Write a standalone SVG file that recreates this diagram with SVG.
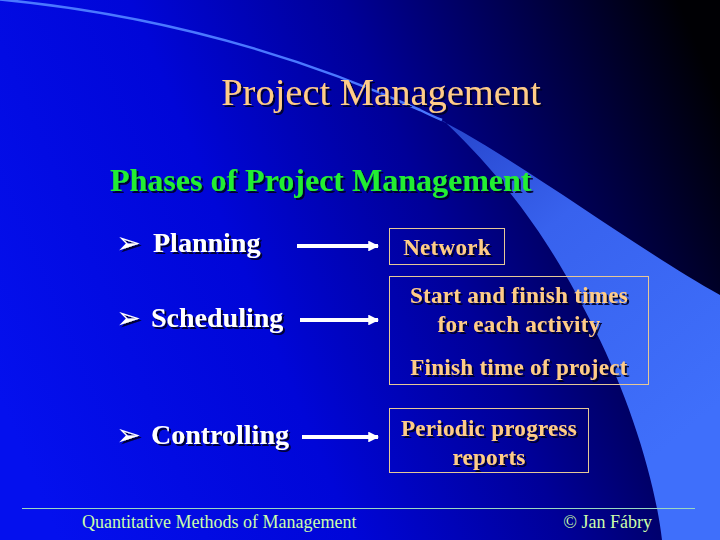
<svg xmlns="http://www.w3.org/2000/svg" width="720" height="540" viewBox="0 0 720 540">
  <defs>
    <linearGradient id="bg" gradientUnits="userSpaceOnUse" x1="0" y1="400" x2="720" y2="100">
      <stop offset="0" stop-color="#0410ee"/>
      <stop offset="0.35" stop-color="#0006d8"/>
      <stop offset="0.6" stop-color="#000098"/>
      <stop offset="0.8" stop-color="#00004e"/>
      <stop offset="1" stop-color="#000004"/>
    </linearGradient>
    <linearGradient id="sw" gradientUnits="userSpaceOnUse" x1="460" y1="130" x2="700" y2="420">
      <stop offset="0" stop-color="#2848d0"/>
      <stop offset="0.35" stop-color="#3862ee"/>
      <stop offset="1" stop-color="#3f6ffb"/>
    </linearGradient>
    <filter id="sh" x="-10%" y="-30%" width="120%" height="160%">
      <feDropShadow dx="2" dy="2" stdDeviation="0.6" flood-color="#000020" flood-opacity="0.9"/>
    </filter>
    <marker id="ah" viewBox="0 0 10 10" refX="9" refY="5" markerWidth="2.7" markerHeight="2.7" orient="auto" markerUnits="strokeWidth">
      <path d="M0,0 L10,5 L0,10 Z" fill="#ffffff"/>
    </marker>
    <style>
      .title { font-family: "Liberation Serif", "Times New Roman", serif; font-size: 38.5px; fill: #ffcc88; }
      .sub { font-family: "Liberation Serif", "Times New Roman", serif; font-weight: bold; font-size: 32px; fill: #22ee33; }
      .item { font-family: "Liberation Serif", "Times New Roman", serif; font-weight: bold; font-size: 28px; fill: #ffffff; }
      .bul { font-family: "DejaVu Sans", sans-serif; font-size: 30px; fill: #ffffff; }
      .box { fill: none; stroke: #e6c896; stroke-width: 1; }
      .bt { font-family: "Liberation Serif", "Times New Roman", serif; font-weight: bold; font-size: 23px; letter-spacing: 0.3px; fill: #ffcc88; text-anchor: middle; }
      .foot { font-family: "Liberation Serif", "Times New Roman", serif; font-size: 18px; fill: #ccffaa; }
      .arr { stroke: #ffffff; stroke-width: 4; fill: none; marker-end: url(#ah); }
    </style>
  </defs>

  <rect width="720" height="540" fill="url(#bg)"/>
  <g id="swoosh">
    <path d="M-5,-1 Q220,20 420,110 C428,114 434,117 442,120" fill="none" stroke="#4a78ff" stroke-width="2.5"/>
    <path d="M420,110 C500,146 630,245 720,295 L720,540 L662,540 C655,480 630,400 595,330 C565,270 525,198 445,122 Z" fill="url(#sw)"/>
  </g>

  <g id="title"><text class="title" x="381" y="105" text-anchor="middle" filter="url(#sh)">Project Management</text></g>
  <g id="subtitle"><text class="sub" x="110" y="191" filter="url(#sh)">Phases of Project Management</text></g>

  <g id="planning" filter="url(#sh)">
    <text class="bul" x="116" y="253">➢</text>
    <text class="item" x="153" y="252">Planning</text>
  </g>
  <g id="scheduling" filter="url(#sh)">
    <text class="bul" x="116" y="328">➢</text>
    <text class="item" x="151" y="327">Scheduling</text>
  </g>
  <g id="controlling" filter="url(#sh)">
    <text class="bul" x="116" y="445">➢</text>
    <text class="item" x="151" y="444">Controlling</text>
  </g>

  <g id="network">
    <rect class="box" x="389.5" y="228.5" width="115" height="36"/>
    <text class="bt" x="447" y="255" filter="url(#sh)">Network</text>
  </g>
  <g id="times">
    <rect class="box" x="389.5" y="276.5" width="259" height="108"/>
    <text class="bt" x="519" y="303" filter="url(#sh)">Start and finish times</text>
    <text class="bt" x="519" y="332" filter="url(#sh)">for each activity</text>
    <text class="bt" x="519" y="375" filter="url(#sh)">Finish time of project</text>
  </g>
  <g id="reports">
    <rect class="box" x="389.5" y="408.5" width="199" height="64"/>
    <text class="bt" x="489" y="436" filter="url(#sh)">Periodic progress</text>
    <text class="bt" x="489" y="465" filter="url(#sh)">reports</text>
  </g>

  <g id="connectors">
    <line class="arr" x1="297" y1="246" x2="378" y2="246"/>
    <line class="arr" x1="300" y1="320" x2="378" y2="320"/>
    <line class="arr" x1="302" y1="437" x2="378" y2="437"/>
  </g>

  <g id="footer">
    <line x1="22" y1="508.5" x2="695" y2="508.5" stroke="#99d8c0" stroke-width="1"/>
    <text class="foot" x="82" y="528">Quantitative Methods of Management</text>
    <text class="foot" x="652" y="528" text-anchor="end">© Jan Fábry</text>
  </g>
</svg>
